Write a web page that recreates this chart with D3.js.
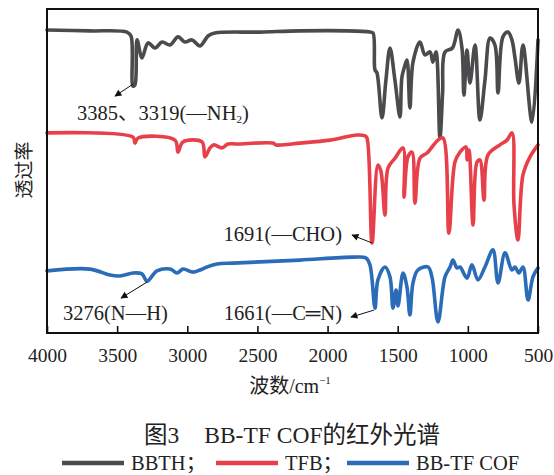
<!DOCTYPE html>
<html>
<head>
    <meta charset="UTF-8">
    <title>BB-TF COF IR</title>
    <script src="https://d3js.org/d3.v7.min.js"></script>
    <style>
        *{
            padding:0;
            margin:0;
        }
        body{
            background:#fff;
        }
        text{
            font-family:"Liberation Serif","Noto Sans CJK SC",serif;
            fill:#222;
        }
        .trace{
            fill:none;
            stroke-width:3.6px;
            stroke-linejoin:round;
            stroke-linecap:round;
        }
    </style>
</head>
<body>
    <svg id="main" width="554" height="475"></svg>
    <script>
// wavenumber (cm-1), transmittance (arbitrary, offset stacked)
const bbthWave = [4000,3693,3430,3401,3387,3373,3358,3323,3280,3230,3180,3123,3066,3016,2966,2909,2852,2803,2482,2197,1855,1698,1676,1662,1648,1612,1584,1555,1520,1484,1470,1450,1434,1413,1391,1341,1306,1270,1249,1227,1199,1180,1163,1110,1070,1042,1028,1006,985,949,914,878,842,807,785,750,714,686,664,636,607,543,500];
const bbthT    = [101,100.7,100.3,99,82.3,82.7,97.7,91.7,96.7,95,97,96,98.7,97,97.7,95.7,99,100,100.3,100.7,100.7,100.3,100,87.7,86.7,71.7,84.3,95,84.3,72,85.3,89,91,75,90.3,97,92.7,93.7,90.3,93.7,65,80,93.7,95,101,95,79.3,94.3,83.3,96,71,84.3,98.3,96,80,98.7,100.3,97.7,91.7,83.3,96,70.3,97.7];

const tfbWave = [4000,3387,3373,3351,3088,3066,3031,2895,2874,2838,2810,2753,2710,2646,2389,2368,2197,1983,1790,1733,1719,1683,1641,1620,1591,1569,1519,1462,1455,1427,1398,1377,1341,1291,1213,1177,1135,1092,1056,1013,1006,992,963,935,914,885,857,771,721,685,671,643,607,557,500];
const tfbT    = [66.7,65.3,63.3,65,64.3,60.3,63.7,63.7,58.7,61.7,62.7,61.7,63,63,63.3,62.7,63.3,64.3,66,65.7,65,30,56,54,39.3,55,58.3,61.7,45.3,58.7,60.3,43.3,58.3,60,64.3,65,33.3,57,60.3,62,57.7,61,36,57,57.7,44.3,59.3,62.7,64.3,66.7,42.7,31,52.7,58.7,62.7];

const cofWave = [4000,3693,3551,3480,3387,3323,3287,3216,3123,3073,3031,2959,2909,2860,2788,2674,2482,2197,1819,1726,1698,1662,1641,1591,1555,1534,1512,1498,1462,1434,1413,1391,1356,1284,1256,1213,1163,1127,1106,1078,1056,1006,971,928,878,821,785,735,686,664,636,607,571,536,500];
const cofT    = [20.7,21.3,19.3,19,20,19.7,17.3,20.7,21.3,20,21.3,20.3,21,22,23,23.3,23.7,24.3,25.3,25,22.7,8.3,17.7,22,18.7,8.3,14.3,9,20,15.3,6,16.7,21,22,18.7,3.7,18.7,22,24.3,21.7,22,18.3,22.7,17.7,22,27.7,16.7,26.7,21,22,20,22,11,18.7,21.7];

const seriesNames  = ["BBTH；", "TFB；", "BB-TF COF"];
const seriesColors = ["#4b4b4d", "#e8404a", "#2b6cb8"];
const xTicks = [4000,3500,3000,2500,2000,1500,1000,500];

const svg = d3.select("#main");
const mLeft = 47, mRight = 538, mTop = 9, mBottom = 333;

const x = d3.scaleLinear().domain([4000, 500]).range([mLeft, mRight]);
const y = d3.scaleLinear().domain([0, 108]).range([mBottom, mTop]);

const series = [
    {name: seriesNames[0], color: seriesColors[0], pts: d3.zip(bbthWave, bbthT)},
    {name: seriesNames[1], color: seriesColors[1], pts: d3.zip(tfbWave, tfbT)},
    {name: seriesNames[2], color: seriesColors[2], pts: d3.zip(cofWave, cofT)}
];

const line = d3.line()
    .x(d => x(d[0]))
    .y(d => y(d[1]))
    .curve(d3.curveCatmullRom.alpha(0.5));

svg.append("defs").append("marker")
    .attr("id", "arrow")
    .attr("viewBox", "0 0 10 10")
    .attr("refX", 9).attr("refY", 5)
    .attr("markerWidth", 9).attr("markerHeight", 7)
    .attr("markerUnits", "userSpaceOnUse")
    .attr("orient", "auto")
    .append("path")
    .attr("d", "M0,0 L10,5 L0,10 Z")
    .attr("fill", "#111");

svg.append("g")
    .selectAll("path")
    .data(series)
    .enter().append("path")
    .attr("class", "trace")
    .attr("stroke", d => d.color)
    .attr("d", d => line(d.pts));

// frame
svg.append("rect")
    .attr("x", mLeft).attr("y", mTop)
    .attr("width", mRight - mLeft).attr("height", mBottom - mTop)
    .attr("fill", "none")
    .attr("stroke", "#111")
    .attr("stroke-width", 2);

// bottom axis, inward ticks
const xAxis = d3.axisBottom(x).tickValues(xTicks).tickFormat(d3.format("d"))
    .tickSizeInner(-7).tickSizeOuter(0).tickPadding(15);
const gx = svg.append("g").attr("transform", `translate(0,${mBottom})`).call(xAxis);
gx.select(".domain").remove();
gx.selectAll(".tick line").attr("stroke", "#111").attr("stroke-width", 1.6);
gx.selectAll(".tick text")
    .attr("font-size", 19.5)
    .attr("font-family", "Liberation Serif")
    .attr("fill", "#222");

// axis titles
const xt = svg.append("text")
    .attr("x", 290).attr("y", 393)
    .attr("text-anchor", "middle")
    .attr("font-size", 20);
xt.append("tspan").text("波数/cm");
xt.append("tspan").attr("dy", -9).attr("font-size", 11).text("−1");

svg.append("text")
    .attr("transform", "translate(31,170) rotate(-90)")
    .attr("text-anchor", "middle")
    .attr("font-size", 19)
    .text("透过率");

// annotations
function arrow(x1, y1, x2, y2) {
    svg.append("line")
        .attr("x1", x1).attr("y1", y1).attr("x2", x2).attr("y2", y2)
        .attr("stroke", "#111").attr("stroke-width", 1)
        .attr("marker-end", "url(#arrow)");
}

arrow(x(3387), y(82.3) - 2, x(3387) - 18, y(82.3) + 10);
const a1 = svg.append("text").attr("x", 77).attr("y", 120).attr("font-size", 20.5);
a1.append("tspan").text("3385、3319(—NH");
a1.append("tspan").attr("dy", 3).attr("font-size", 11).text("2");
a1.append("tspan").attr("dy", -3).text(")");

arrow(x(1683), y(30), x(1683) - 20, y(30) - 8);
svg.append("text").attr("x", 342).attr("y", 241).attr("text-anchor", "end")
    .attr("font-size", 20.5).text("1691(—CHO)");

arrow(x(3287), y(17.3) + 1, x(3287) - 26, y(17.3) + 17);
svg.append("text").attr("x", 63).attr("y", 320)
    .attr("font-size", 20.5).text("3276(N—H)");

arrow(x(1662) - 1, y(8.3) + 2, x(1662) - 24, y(8.3) + 9);
svg.append("text").attr("x", 342).attr("y", 320).attr("text-anchor", "end")
    .attr("font-size", 20.5).text("1661(—C═N)");

// caption
const cap = svg.append("text")
    .attr("x", 292).attr("y", 443)
    .attr("text-anchor", "middle")
    .attr("font-size", 23.5);
cap.append("tspan").text("图3");
cap.append("tspan").attr("dx", 25).text("BB-TF COF的红外光谱");

// legend
const legX = [62, 216, 347];
const lg = svg.append("g")
    .selectAll("g")
    .data(series)
    .enter().append("g")
    .attr("transform", (d, i) => `translate(${legX[i]},463)`);
lg.append("line")
    .attr("x1", 0).attr("x2", 62)
    .attr("stroke", d => d.color)
    .attr("stroke-width", 4.5);
lg.append("text")
    .attr("x", 69).attr("y", 6.5)
    .attr("font-size", 20.5)
    .text(d => d.name);
    </script>
</body>
</html>
